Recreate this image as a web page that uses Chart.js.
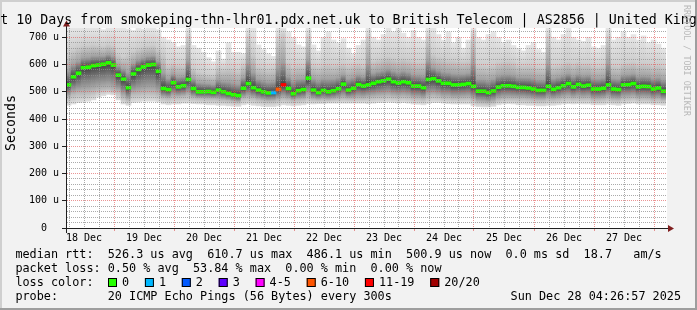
<!DOCTYPE html>
<html><head><meta charset="utf-8">
<script src="https://cdn.jsdelivr.net/npm/chart.js@4.4.1/dist/chart.umd.min.js"></script>
<style>html,body{margin:0;padding:0;background:#f2f2f2;overflow:hidden}canvas{display:block}</style>
</head><body>
<canvas id="c" width="697" height="310"></canvas>
<script>
// ---------------- data ----------------
const titleText = 'Last 10 Days from smokeping-thn-lhr01.pdx.net.uk to British Telecom | AS2856 | United Kingdom';
const yAxisTitle = 'Seconds';
const dayLabels = ['18 Dec','19 Dec','20 Dec','21 Dec','22 Dec','23 Dec','24 Dec','25 Dec','26 Dec','27 Dec'];
const yMajorTicks = [0,100,200,300,400,500,600,700];
const startHour = 4.8;   // hours after 18 Dec 00:00 where the graph starts
const stepHours = 2;     // one value every 2 hours

// median rtt (us)
const median = [
 525,555,568,588,590,596,598,601,606,598,
 561,546,515,565,582,591,598,600,575,512,
 508,533,518,522,545,512,500,500,501,498,
 506,500,494,489,486,513,530,515,506,500,
 496,497,509,525,512,493,504,508,550,506,
 497,505,500,504,511,528,506,513,526,521,
 525,531,537,540,546,537,532,537,533,521,
 521,515,545,548,540,531,531,525,525,527,
 530,520,502,502,497,503,517,522,522,520,
 516,516,514,510,505,505,520,509,515,522,
 530,518,527,521,524,510,510,513,525,510,
 508,525,526,530,518,520,519,510,514,502];
// smoke envelope (us): highest ping, upper band, lower band, lowest ping
const smokeMax = [
 734,734,734,734,734,734,734,728,734,734,
 734,734,730,725,734,730,734,734,728,700,
 690,680,665,670,734,670,660,645,625,610,
 650,620,680,645,645,640,734,734,672,655,
 640,630,734,734,720,700,672,665,734,672,
 650,700,720,690,680,695,660,640,670,690,
 734,700,690,710,734,720,734,715,700,725,
 700,690,734,734,710,690,720,680,700,660,
 690,734,700,690,710,720,700,680,690,670,
 660,650,670,680,655,645,734,700,690,710,
 734,700,690,685,700,665,660,670,734,690,
 700,720,700,710,690,705,680,690,675,660];
const smokeHi = [
 640,655,665,670,672,675,672,668,675,670,
 640,630,640,650,660,665,670,672,660,640,
 600,605,600,598,700,590,575,570,565,562,
 590,585,590,585,580,600,700,640,595,590,
 585,588,690,710,610,595,600,598,700,600,
 595,600,605,600,602,605,598,600,605,600,
 700,615,620,625,630,625,620,625,620,615,
 610,612,700,640,630,625,620,618,615,612,
 615,710,600,598,596,600,610,612,615,610,
 600,598,600,598,592,590,700,598,600,605,
 612,605,610,605,606,598,595,598,700,598,
 596,605,608,610,604,606,604,598,600,595];
const smokeLo = [
 480,490,495,495,497,500,505,508,510,505,
 500,480,470,490,492,495,497,495,490,478,
 475,480,480,482,485,478,475,475,474,474,
 472,470,468,465,462,475,478,475,470,468,
 465,466,470,475,472,468,470,472,478,472,
 470,472,470,472,474,476,474,474,476,475,
 478,480,482,483,485,482,480,482,480,476,
 475,472,480,485,482,478,478,475,475,476,
 477,470,462,460,458,462,470,474,475,474,
 474,474,472,470,468,468,472,470,472,476,
 478,475,477,475,476,470,470,472,476,470,
 469,475,476,478,474,475,474,470,472,468];
const smokeMin = [
 450,455,460,462,465,470,480,485,490,488,
 470,455,450,460,462,465,465,465,462,455,
 452,455,455,458,458,456,455,455,452,452,
 450,450,448,447,446,452,455,450,448,446,
 445,445,448,452,450,448,450,452,456,455,
 456,456,458,458,458,458,458,458,458,458,
 456,458,460,460,462,460,458,460,458,455,
 454,452,456,460,460,458,456,455,455,455,
 455,448,445,444,444,446,452,455,456,455,
 452,452,450,450,448,448,450,450,452,455,
 456,455,456,455,455,452,452,452,455,452,
 450,455,456,458,455,455,455,452,452,450];
// lost pings (of 20) per interval
const lossCount = [
 0,0,0,0,0,0,0,0,0,0, 0,0,0,0,0,0,0,0,0,0,
 0,0,0,0,0,0,0,0,0,0, 0,0,0,0,0,0,0,0,0,0,
 0,1,8,12,0,0,0,0,0,0, 0,0,0,0,0,0,0,0,0,0,
 0,0,0,0,0,0,0,0,0,0, 0,0,0,0,0,0,0,0,0,0,
 0,0,0,0,0,0,0,0,0,0, 0,0,0,0,0,0,0,0,0,0,
 0,0,0,0,0,0,0,0,0,0, 0,0,0,0,0,0,0,0,0,0];
const lossLegendLabels = ['0','1','2','3','4-5','6-10','11-19','20/20'];
const lossLegendUpper  = [0,1,2,3,5,10,19,20];
const lossLegendColors = ['#26ff00','#00b8ff','#0059ff','#5e00ff','#ff00ff','#ff5500','#ff0000','#a10000'];
const legendLines = [
 'median rtt:  526.3 us avg  610.7 us max  486.1 us min  500.9 us now  0.0 ms sd  18.7   am/s',
 'packet loss: 0.50 % avg  53.84 % max  0.00 % min  0.00 % now'
];
const lossColorTitle = 'loss color:';
const probeText = 'probe:       20 ICMP Echo Pings (56 Bytes) every 300s';
const dateText = 'Sun Dec 28 04:26:57 2025';
const watermark = 'RRDTOOL / TOBI OETIKER';

// ---------------- styling ----------------
const MONO = 'DejaVu Sans Mono';
const MAJOR = 'rgba(222,79,79,0.6)';
const MINOR = 'rgba(143,143,143,0.75)';
const AXIS = '#1f1f1f';
const ARROW = '#801f1f';
const medianHalf = 5.5;

const hourOf = i => startHour + stepHours * i + stepHours / 2;
function lossColor(n) {
  for (let k = 0; k < lossLegendUpper.length; k++) if (n <= lossLegendUpper[k]) return lossLegendColors[k];
  return lossLegendColors[lossLegendColors.length - 1];
}
function smokeFill(ctx) {
  const chart = ctx.chart, ys = chart.scales.y, i = ctx.dataIndex;
  if (!ys || i === undefined || !isFinite(ys.getPixelForValue(0))) return '#cccccc';
  const top = ys.getPixelForValue(smokeMax[i]), bot = ys.getPixelForValue(smokeMin[i]);
  const span = (bot - top) || 1;
  const f = v => Math.min(1, Math.max(0, (ys.getPixelForValue(v) - top) / span));
  const m = median[i], hi = smokeHi[i], lo = smokeLo[i];
  const g = chart.ctx.createLinearGradient(0, top, 0, bot);
  g.addColorStop(0, '#e6e6e6');
  g.addColorStop(f(hi), '#cdcdcd');
  g.addColorStop(f(m + (hi - m) * 0.45), '#a2a2a2');
  g.addColorStop(f(m + (hi - m) * 0.12), '#5c5c5c');
  g.addColorStop(f(m), '#404040');
  g.addColorStop(f(m - (m - lo) * 0.45), '#7a7a7a');
  g.addColorStop(f(lo), '#b9b9b9');
  g.addColorStop(1, '#e0e0e0');
  return g;
}

const smokeData = median.map((m, i) => ({x: hourOf(i), y: [smokeMin[i], smokeMax[i]]}));
const medianData = median.map((m, i) => ({x: hourOf(i), y: [m - medianHalf, m + medianHalf]}));

const xTickHours = []; for (let h = 6; h <= 240; h += 6) xTickHours.push(h);
const yGridValues = []; for (let v = 0; v <= 720; v += 20) yGridValues.push(v);

const framePlugin = {
  id: 'frame',
  beforeDraw(chart) {
    const c = chart.ctx, a = chart.chartArea, W = chart.width, H = chart.height;
    c.save();
    c.fillStyle = '#f2f2f2'; c.fillRect(0, 0, W, H);
    c.fillStyle = '#cfcfcf'; c.fillRect(0, 0, W, 2); c.fillRect(0, 0, 2, H);
    c.fillStyle = '#9e9e9e'; c.fillRect(0, H - 2, W, 2); c.fillRect(W - 2, 0, 2, H);
    c.fillStyle = '#ffffff'; c.fillRect(a.left, a.top, a.right - a.left + 1, a.bottom - a.top);
    c.restore();
  },
  afterDraw(chart) {
    const c = chart.ctx, a = chart.chartArea;
    c.save();
    // axis extensions and arrows
    c.strokeStyle = AXIS; c.lineWidth = 1;
    c.beginPath(); c.moveTo(62, a.bottom + 0.5); c.lineTo(669, a.bottom + 0.5); c.stroke();
    c.beginPath(); c.moveTo(a.left + 0.5, a.bottom + 5); c.lineTo(a.left + 0.5, 25); c.stroke();
    c.fillStyle = ARROW;
    c.beginPath(); c.moveTo(668, a.bottom - 3); c.lineTo(674, a.bottom + 0.5); c.lineTo(668, a.bottom + 4); c.closePath(); c.fill();
    c.beginPath(); c.moveTo(a.left - 3, 26.5); c.lineTo(a.left + 0.5, 20.5); c.lineTo(a.left + 4, 26.5); c.closePath(); c.fill();
    // title
    c.fillStyle = '#000';
    c.font = '13.3px "' + MONO + '"';
    c.textAlign = 'center'; c.textBaseline = 'alphabetic';
    c.fillText(titleText, chart.width / 2, 23.5);
    // y axis title
    c.save(); c.translate(15, 123); c.rotate(-Math.PI / 2);
    c.fillText(yAxisTitle, 0, 0); c.restore();
    // watermark
    c.save(); c.translate(684, 5); c.rotate(Math.PI / 2);
    c.font = '8.4px "' + MONO + '"'; c.fillStyle = '#b8b8b8'; c.textAlign = 'left';
    c.fillText(watermark, 0, 0); c.restore();
    // legend
    c.font = '11.8px "' + MONO + '"'; c.fillStyle = '#000'; c.textAlign = 'left';
    const x0 = 15.4;
    c.fillText(legendLines[0], x0, 258);
    c.fillText(legendLines[1], x0, 272);
    c.fillText(lossColorTitle, x0, 286);
    let bx = 108;
    for (let k = 0; k < lossLegendLabels.length; k++) {
      c.fillStyle = lossLegendColors[k]; c.fillRect(bx, 278, 9, 9);
      c.strokeStyle = '#000'; c.strokeRect(bx + 0.5, 278.5, 8, 8);
      c.fillStyle = '#000';
      c.fillText(lossLegendLabels[k], bx + 14, 286);
      bx += 14 + c.measureText(lossLegendLabels[k]).width + 15.8;
    }
    c.fillText(probeText, x0, 300);
    c.textAlign = 'right';
    c.fillText(dateText, 681, 300);
    c.restore();
  }
};

new Chart(document.getElementById('c'), {
  type: 'bar',
  data: {
    datasets: [
      {label: 'median', data: medianData, order: 1, grouped: false,
       backgroundColor: median.map((m, i) => lossColor(lossCount[i])),
       barPercentage: 1, categoryPercentage: 1, borderWidth: 0},
      {label: 'smoke', data: smokeData, order: 2, grouped: false,
       backgroundColor: smokeFill,
       barPercentage: 1, categoryPercentage: 1, borderWidth: 0}
    ]
  },
  options: {
    responsive: false, animation: false, devicePixelRatio: 1,
    layout: {padding: {left: 0, top: 28, right: 31, bottom: 0}, autoPadding: false},
    plugins: {legend: {display: false}, tooltip: {enabled: false}, title: {display: false}},
    scales: {
      x: {
        type: 'linear', min: startHour, max: startHour + 240, offset: false,
        afterBuildTicks: s => { s.ticks = xTickHours.map(v => ({value: v})); },
        afterFit: s => { s.height = 82; },
        grid: {z: 1, offset: false, lineWidth: 1, drawTicks: true, tickLength: 3,
               color: c => (c.tick && c.tick.value % 24 === 0) ? MAJOR : MINOR,
               tickColor: c => (c.tick && c.tick.value % 24 === 0) ? MAJOR : 'rgba(0,0,0,0)',
               borderDash: [1, 1]},
        border: {z: 2, display: true, color: AXIS, width: 1, dash: [1, 1]},
        ticks: {autoSkip: false, maxRotation: 0, minRotation: 0, padding: 1.5, color: '#000',
                font: {family: MONO, size: 10},
                callback: v => ((v - 12) % 24 === 0 ? dayLabels[(v - 12) / 24] : '')}
      },
      y: {
        min: 0, max: 734,
        afterBuildTicks: s => { s.ticks = yGridValues.map(v => ({value: v})); },
        afterFit: s => { s.width = 66; },
        grid: {z: 1, lineWidth: 1, drawTicks: true, tickLength: 4,
               color: c => (c.tick && c.tick.value % 100 === 0) ? MAJOR : MINOR,
               tickColor: c => (c.tick && c.tick.value % 100 === 0) ? AXIS : 'rgba(0,0,0,0)',
               borderDash: [1, 1]},
        border: {z: 2, display: true, color: AXIS, width: 1, dash: [1, 1]},
        ticks: {autoSkip: false, padding: 3, color: '#000', font: {family: MONO, size: 10},
                callback: v => (yMajorTicks.includes(v) ? (v === 0 ? '0  ' : v + ' u') : '')}
      }
    }
  },
  plugins: [framePlugin]
});
</script>
</body></html>
